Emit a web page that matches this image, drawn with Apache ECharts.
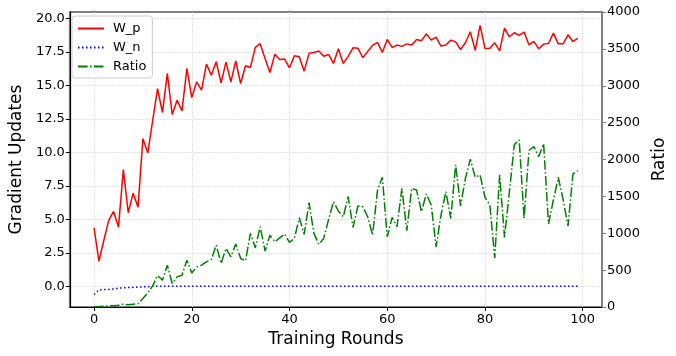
<!DOCTYPE html>
<html>
<head>
<meta charset="utf-8">
<script src="https://cdn.jsdelivr.net/npm/echarts@6/dist/echarts.min.js"></script>
<style>
    html, body { margin: 0; padding: 0; background: #fff; }
    #main { width: 676px; height: 356px; }
</style>
</head>
<body>
<div id="main"></div>
<script>
// training rounds (x)
const rounds = [
    0, 1, 2, 3, 4, 5, 6, 7, 8, 9, 10, 11, 12, 13, 14, 15, 16, 17, 18, 19,
    20, 21, 22, 23, 24, 25, 26, 27, 28, 29, 30, 31, 32, 33, 34, 35, 36, 37, 38, 39,
    40, 41, 42, 43, 44, 45, 46, 47, 48, 49, 50, 51, 52, 53, 54, 55, 56, 57, 58, 59,
    60, 61, 62, 63, 64, 65, 66, 67, 68, 69, 70, 71, 72, 73, 74, 75, 76, 77, 78, 79,
    80, 81, 82, 83, 84, 85, 86, 87, 88, 89, 90, 91, 92, 93, 94, 95, 96, 97, 98, 99
]
const wP = [
    4.37, 1.87, 3.42, 4.92, 5.59, 4.42, 8.71, 5.49, 6.96, 5.91,
    11.03, 9.96, 12.4, 14.77, 12.98, 15.9, 12.83, 13.9, 13.1, 16.27,
    14.1, 15.27, 14.65, 16.6, 15.77, 16.77, 15.2, 16.74, 15.27, 16.84,
    15.15, 16.47, 16.35, 17.85, 18.12, 17.02, 15.97, 17.34, 16.94, 16.97,
    16.32, 17.22, 17.14, 16.07, 17.4, 17.47, 17.57, 17.19, 17.32, 16.65,
    17.74, 16.65, 17.18, 17.81, 17.79, 17.07, 17.55, 18.0, 18.22, 17.47,
    18.44, 17.84, 18.02, 17.92, 18.11, 18.02, 18.44, 18.34, 18.86, 18.39,
    18.62, 17.94, 18.02, 18.39, 18.26, 17.69, 18.19, 19.01, 17.62, 19.49,
    17.77, 17.79, 18.19, 17.59, 19.29, 18.64, 18.94, 18.74, 18.99, 18.04,
    18.29, 17.74, 18.09, 18.14, 18.91, 18.11, 18.11, 18.79, 18.29, 18.52
]
const wN = [
    -0.62, -0.27, -0.25, -0.24, -0.2, -0.15, -0.11, -0.1, -0.08, -0.07,
    -0.05, -0.03, 0, 0, 0, 0, 0, 0, 0, 0,
    0, 0, 0, 0, 0, 0, 0, 0, 0, 0,
    0, 0, 0, 0, 0, 0, 0, 0, 0, 0,
    0, 0, 0, 0, 0, 0, 0, 0, 0, 0,
    0, 0, 0, 0, 0, 0, 0, 0, 0, 0,
    0, 0, 0, 0, 0, 0, 0, 0, 0, 0,
    0, 0, 0, 0, 0, 0, 0, 0, 0, 0,
    0, 0, 0, 0, 0, 0, 0, 0, 0, 0,
    0, 0, 0, 0, 0, 0, 0, 0, 0, 0
]
const ratio = [
    5, 8, 12, 15, 18, 25, 40, 30, 38, 45,
    114, 191, 286, 427, 363, 567, 318, 408, 431, 635,
    462, 544, 567, 612, 644, 839, 590, 794, 680, 853,
    658, 626, 998, 802, 1088, 758, 975, 884, 938, 989,
    876, 930, 1210, 985, 1414, 998, 849, 930, 1189, 1428,
    1302, 1224, 1496, 1080, 1370, 1360, 1224, 975, 1578, 1760,
    952, 1216, 1088, 1610, 1034, 1610, 1587, 1292, 1533, 1383,
    816, 1247, 1564, 1202, 1927, 1370, 1746, 2005, 1760, 1791,
    1488, 1383, 666, 1791, 944, 1564, 2199, 2267, 1202, 2122,
    2176, 2040, 2213, 1125, 1451, 1760, 1451, 1098, 1805, 1850
]
const xTicks = [0, 20, 40, 60, 80, 100]
const leftTicks = [0, 2.5, 5, 7.5, 10, 12.5, 15, 17.5, 20]

const font = 'DejaVu Sans'
const pair = (arr) => rounds.map((r, i) => [r, arr[i]])

const myChart = echarts.init(document.getElementById('main'))
const option = {
    animation: false,
    textStyle: { fontFamily: font },
    grid: {
        left: 66, right: 70, top: 12, bottom: 49,
        show: true, borderColor: '#808080', borderWidth: 2
    },
    legend: {
        orient: 'vertical',
        left: 72, top: 16,
        padding: [6, 6, 5, 5],
        itemGap: 6,
        itemWidth: 26,
        itemHeight: 14,
        borderColor: '#cccccc',
        borderWidth: 1,
        borderRadius: 3,
        backgroundColor: '#ffffff',
        itemStyle: { opacity: 0 },
        textStyle: { fontFamily: font, fontSize: 13, color: '#000', padding: [0, 0, 0, 4] },
        data: ['W_p', 'W_n', 'Ratio']
    },
    xAxis: {
        type: 'value',
        min: -4.95, max: 103.95,
        name: 'Training Rounds',
        nameLocation: 'middle',
        nameGap: 23,
        nameTextStyle: { fontFamily: font, fontSize: 17, color: '#000' },
        axisLine: { onZero: false, lineStyle: { color: '#000', width: 1.2 } },
        axisTick: { customValues: xTicks, length: 4, lineStyle: { color: '#000' } },
        axisLabel: { customValues: xTicks, margin: 6, fontSize: 13, color: '#000', fontFamily: font },
        splitLine: { show: true, lineStyle: { color: '#dcdcdc', width: 0.8, type: [2, 1] } }
    },
    yAxis: [
        {
            type: 'value',
            min: -1.55, max: 20.49,
            name: 'Gradient Updates',
            nameLocation: 'middle',
            nameRotate: 90,
            nameGap: 44,
            nameTextStyle: { fontFamily: font, fontSize: 17, color: '#000' },
            axisLine: { show: true, onZero: false, lineStyle: { color: '#000', width: 1.2 } },
            axisTick: { show: true, customValues: leftTicks, length: 4, lineStyle: { color: '#000' } },
            axisLabel: {
                customValues: leftTicks, margin: 5, fontSize: 13, color: '#000', fontFamily: font,
                formatter: (v) => v.toFixed(1)
            },
            splitLine: { show: true, lineStyle: { color: '#dcdcdc', width: 0.8, type: [2, 1] } }
        },
        {
            type: 'value',
            position: 'right',
            min: 0, max: 4000, interval: 500,
            name: 'Ratio',
            nameLocation: 'middle',
            nameRotate: 90,
            nameGap: 45,
            nameTextStyle: { fontFamily: font, fontSize: 17, color: '#000' },
            axisLine: { show: true, onZero: false, lineStyle: { color: '#808080', width: 2 } },
            axisTick: { show: true, length: 4, lineStyle: { color: '#808080' } },
            axisLabel: {
                margin: 5, fontSize: 13, color: '#000', fontFamily: font,
                formatter: (v) => String(v)
            },
            splitLine: { show: false }
        }
    ],
    series: [
        {
            name: 'W_p', type: 'line', yAxisIndex: 0,
            symbol: 'none',
            data: pair(wP),
            color: '#ff0000',
            lineStyle: { color: '#ff0000', width: 1.5 }
        },
        {
            name: 'W_n', type: 'line', yAxisIndex: 0,
            symbol: 'none',
            data: pair(wN),
            color: '#0000ff',
            lineStyle: { color: '#0000ff', width: 1.5, type: [1.5, 2.5] }
        },
        {
            name: 'Ratio', type: 'line', yAxisIndex: 1,
            symbol: 'none',
            data: pair(ratio),
            color: '#008000',
            lineStyle: { color: '#008000', width: 1.5, type: [9.6, 2.4, 1.5, 2.4] }
        }
    ]
}
myChart.setOption(option)
</script>
</body>
</html>
